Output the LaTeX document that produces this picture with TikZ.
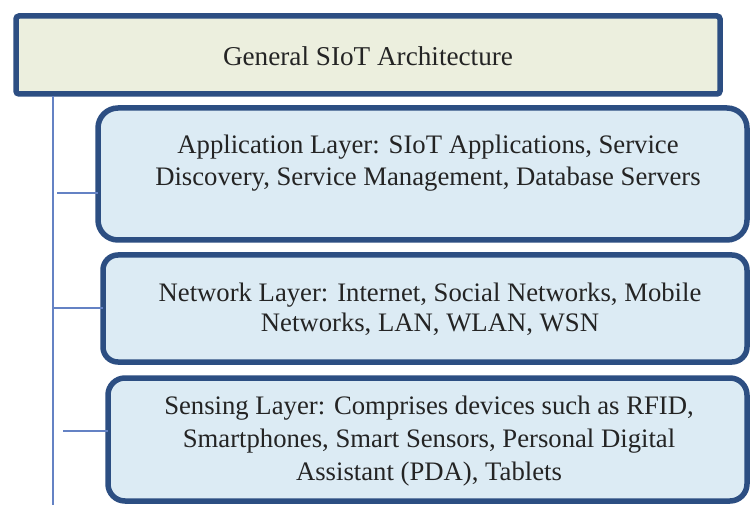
\documentclass[tikz,border=0pt]{standalone}
\usepackage{fontspec}
\setmainfont{Liberation Serif}
\definecolor{frameblue}{RGB}{44,78,130}
\definecolor{linkblue}{RGB}{100,130,196}
\definecolor{layerfill}{RGB}{220,235,244}
\definecolor{headfill}{RGB}{236,239,222}
\definecolor{inkgray}{RGB}{36,36,36}
\tikzset{
  headbox/.style={draw=frameblue, fill=headfill, line width=5.5pt, rounded corners=3pt},
  layerbox/.style={draw=frameblue, fill=layerfill, line width=5.5pt},
  link/.style={draw=linkblue, line width=2.2pt},
  lbl/.style={text=inkgray, align=center, inner sep=0pt,
    font=\fontsize{26.7}{32}\selectfont},
}
\begin{document}
\begin{tikzpicture}[x=1pt, y=-1pt]
  \useasboundingbox[fill=white] (0,0) rectangle (750,505);

  % header box
  \draw[headbox] (16,16) rectangle (720,94);
  \node[lbl, font=\fontsize{27.2}{32}\selectfont] (head) at (368,56) {General SIoT Architecture};

  % spine and branch points
  \coordinate (top) at (53,96);
  \coordinate (bottom) at (53,505);
  \coordinate (b1) at (57,193);
  \coordinate (b2) at (53,308);
  \coordinate (b3) at (63,431);
  \draw[link] (top) -- (bottom);

  % layer boxes
  \draw[layerbox, rounded corners=20pt] (98,108) rectangle (747,240);
  \coordinate (app) at (98,193);
  \draw[layerbox, rounded corners=15pt] (103,255) rectangle (747,362);
  \coordinate (net) at (103,308);
  \draw[layerbox, rounded corners=17pt] (108,378) rectangle (747,501);
  \coordinate (sen) at (108,431);

  \draw[link] (b1) -- (app);
  \draw[link] (b2) -- (net);
  \draw[link] (b3) -- (sen);

  % layer texts
  \node[lbl] (apptext) at (428,163) {Application Layer: SIoT Applications, Service\\Discovery, Service Management, Database Servers};
  \node[lbl, font=\fontsize{26.7}{30}\selectfont] (nettext) at (430,309) {Network Layer: Internet, Social Networks, Mobile\\Networks, LAN, WLAN, WSN};
  \node[lbl, font=\fontsize{26.7}{33}\selectfont] (sentext) at (429,441) {Sensing Layer: Comprises devices such as RFID,\\Smartphones, Smart Sensors, Personal Digital\\Assistant (PDA), Tablets};
\end{tikzpicture}
\end{document}
